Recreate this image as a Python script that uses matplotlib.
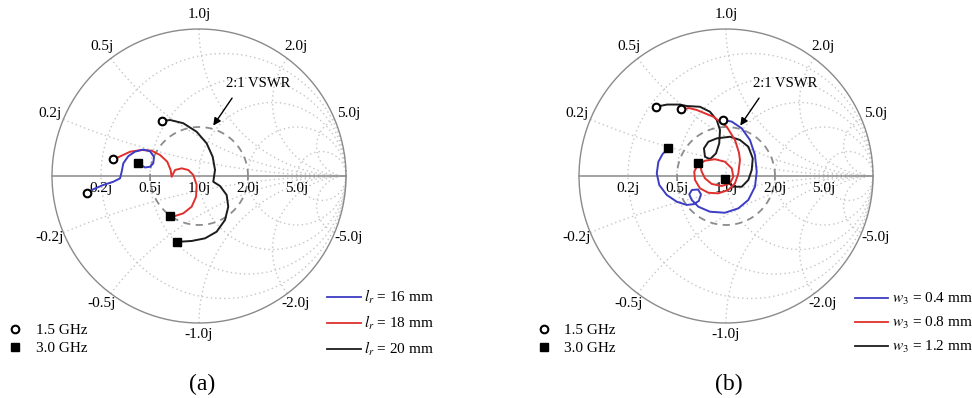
import numpy as np
import matplotlib
matplotlib.use("Agg")
import matplotlib.pyplot as plt
from matplotlib.lines import Line2D

plt.rcParams['font.family'] = ['Liberation Serif', 'DejaVu Serif']
plt.rcParams['mathtext.fontset'] = 'stix'

# ---------------- Smith chart grid values ----------------
r_grid = [0.2, 0.5, 1.0, 2.0, 5.0]
x_grid = [0.2, 0.5, 1.0, 2.0, 5.0]
resistance_labels = ['0.2j', '0.5j', '1.0j', '2.0j', '5.0j']
reactance_labels = ['0.2j', '0.5j', '1.0j', '2.0j', '5.0j']
neg_reactance_labels = ['-0.2j', '-0.5j', '-1.0j', '-2.0j', '-5.0j']
vswr = 2.0

# ---------------- (a) data: reflection coefficient (Re, Im) ----------------
a_labels = [r'$l_r$ = 16 mm', r'$l_r$ = 18 mm', r'$l_r$ = 20 mm']
a16_re = [-0.764, -0.719, -0.651, -0.583, -0.537, -0.526, -0.515, -0.481, -0.435, -0.379,
          -0.333, -0.306, -0.311, -0.333, -0.367, -0.413]
a16_im = [-0.114, -0.090, -0.061, -0.039, -0.016, 0.029, 0.086, 0.135, 0.166, 0.180,
          0.168, 0.130, 0.086, 0.063, 0.058, 0.086]
a18_re = [-0.583, -0.542, -0.469, -0.390, -0.322, -0.265, -0.216, -0.193, -0.186, -0.163,
          -0.118, -0.073, -0.039, -0.016, -0.020, -0.050, -0.107, -0.163, -0.197]
a18_im = [0.114, 0.131, 0.165, 0.177, 0.172, 0.143, 0.097, 0.041, -0.005, 0.041,
          0.052, 0.041, 0.007, -0.061, -0.141, -0.209, -0.254, -0.272, -0.272]
a20_re = [-0.254, -0.197, -0.107, -0.016, 0.052, 0.093, 0.109, 0.097, 0.143, 0.188,
          0.199, 0.177, 0.120, 0.041, -0.050, -0.129, -0.148]
a20_im = [0.374, 0.381, 0.359, 0.301, 0.222, 0.131, 0.041, -0.039, -0.068, -0.129,
          -0.209, -0.299, -0.379, -0.424, -0.442, -0.447, -0.447]

# ---------------- (b) data ----------------
b_labels = [r'$w_3$ = 0.4 mm', r'$w_3$ = 0.8 mm', r'$w_3$ = 1.2 mm']
b04_re = [-0.018, 0.039, 0.107, 0.163, 0.197, 0.209, 0.197, 0.152, 0.084, -0.007,
          -0.109, -0.188, -0.233, -0.250, -0.232, -0.190, -0.170, -0.185, -0.222, -0.267,
          -0.335, -0.403, -0.454, -0.471, -0.460, -0.431, -0.392]
b04_im = [0.381, 0.370, 0.324, 0.245, 0.143, 0.029, -0.073, -0.163, -0.220, -0.250,
          -0.243, -0.209, -0.163, -0.125, -0.095, -0.092, -0.125, -0.170, -0.192, -0.197,
          -0.175, -0.129, -0.061, 0.018, 0.097, 0.150, 0.188]
b08_re = [-0.306, -0.250, -0.199, -0.086, 0.005, 0.061, 0.088, 0.095, 0.084, 0.061,
          0.016, -0.052, -0.120, -0.177, -0.211, -0.216, -0.193, -0.143, -0.075, -0.007,
          0.039, 0.050, 0.027, -0.029, -0.097, -0.143, -0.165, -0.177, -0.188]
b08_im = [0.454, 0.462, 0.449, 0.403, 0.335, 0.245, 0.160, 0.109, 0.018, -0.050,
          -0.095, -0.118, -0.114, -0.084, -0.027, 0.029, 0.075, 0.104, 0.114, 0.097,
          0.052, -0.005, -0.050, -0.068, -0.054, -0.016, 0.029, 0.075, 0.086]
b12_re = [-0.476, -0.401, -0.313, -0.267, -0.177, -0.109, -0.063, -0.041, -0.046, -0.068,
          -0.109, -0.143, -0.150, -0.120, -0.063, 0.027, 0.095, 0.152, 0.182, 0.175,
          0.152, 0.107, 0.050, 0.005, -0.007]
b12_im = [0.471, 0.486, 0.486, 0.476, 0.471, 0.437, 0.381, 0.313, 0.222, 0.154,
          0.114, 0.131, 0.188, 0.233, 0.256, 0.267, 0.245, 0.199, 0.120, 0.041,
          -0.027, -0.073, -0.073, -0.039, -0.022]

freq_labels = ['1.5 GHz', '3.0 GHz']
vswr_text = '2:1 VSWR'

colors = ['#3c3cc4', '#e0302e', '#1c1c1c']
GRID_C = '#c6c6c6'
FS = 11

fig = plt.figure(figsize=(9.72, 3.98), dpi=100)
# axes: each half; center of chart at pixel (199,176) / (726,176), radius 147 px
PX = 147.0
axA = fig.add_axes([0, 0, 0.5, 1])
axB = fig.add_axes([0.5, 0, 0.5, 1])
for ax, cx in ((axA, 199.0), (axB, 726.0 - 486.0)):
    ax.set_xlim(-cx / PX, (486.0 - cx) / PX)
    ax.set_ylim((176.0 - 398.0) / PX, 176.0 / PX)
    ax.set_aspect('auto')
    ax.axis('off')


def gamma(z):
    return (z - 1) / (z + 1)


GRID_LS = (0, (1, 2.2))


def draw_smith(ax):
    t = np.linspace(0, 2 * np.pi, 400)
    # constant resistance circles
    for r in r_grid:
        c = r / (1 + r)
        rad = 1 / (1 + r)
        ax.plot(c + rad * np.cos(t), rad * np.sin(t), ls=GRID_LS, color=GRID_C, lw=1.0, zorder=1)
    # constant reactance arcs
    s = np.concatenate([np.linspace(0, 1, 200), np.logspace(0, 4, 400)])
    for x in x_grid:
        for sgn in (1, -1):
            g = gamma(s + 1j * sgn * x)
            ax.plot(g.real, g.imag, ls=GRID_LS, color=GRID_C, lw=1.0, zorder=1)
    # outer circle and real axis
    ax.plot(np.cos(t), np.sin(t), color='#8a8a8a', lw=1.0, zorder=2)
    ax.plot([-1, 1], [0, 0], color='#929292', lw=1.2, zorder=2)
    # VSWR circle
    rho = (vswr - 1) / (vswr + 1)
    ax.plot(rho * np.cos(t), rho * np.sin(t), ls=(0, (4, 3)), color='#8c8c8c', lw=1.3, zorder=2)
    # resistance labels on real axis
    for r, lab in zip(r_grid, resistance_labels):
        ax.text(gamma(r), -0.085, lab, ha='center', va='center', fontsize=FS, zorder=3)
    # reactance labels around circle
    for x, lab, nlab in zip(x_grid, reactance_labels, neg_reactance_labels):
        g = gamma(1j * x)
        ang = np.angle(g)
        ax.text(1.1 * np.cos(ang), 1.1 * np.sin(ang), lab, ha='center', va='center', fontsize=FS)
        ax.text(1.1 * np.cos(-ang), 1.08 * np.sin(-ang), nlab, ha='center', va='center', fontsize=FS)
    # VSWR annotation
    ax.annotate('', xy=(0.097, 0.343), xytext=(0.225, 0.53),
                arrowprops=dict(arrowstyle='-|>', color='black', lw=1.0, mutation_scale=11,
                                shrinkA=0, shrinkB=0), zorder=4)
    ax.text(0.40, 0.63, vswr_text, ha='center', va='center', fontsize=10.5)


def draw_curves(ax, series, labels, leg_x, freq_x):
    handles = []
    zorders = [5.5, 5.2, 5.0]
    for (re, im), col, lab, zo in zip(series, colors, labels, zorders):
        ax.plot(re, im, color=col, lw=1.4, zorder=zo)
        ax.plot(re[0], im[0], 'o', ms=5.5, mfc='white', mec='black', mew=1.5, zorder=6)
        ax.plot(re[-1], im[-1], 's', ms=6, mfc='black', mec='black', zorder=6)
        handles.append(Line2D([], [], color=col, lw=1.3, label=lab))
    leg1 = ax.legend(handles=handles, loc='center left', bbox_to_anchor=(leg_x, 0.188),
                     frameon=False, fontsize=FS, handlelength=2.2, handletextpad=0.2,
                     labelspacing=0.5, borderpad=0, borderaxespad=0)
    ax.add_artist(leg1)
    fh = [Line2D([], [], ls='none', marker='o', ms=5.5, mfc='white', mec='black', mew=1.5,
                 label=freq_labels[0]),
          Line2D([], [], ls='none', marker='s', ms=6, mfc='black', mec='black',
                 label=freq_labels[1])]
    ax.legend(handles=fh, loc='center left', bbox_to_anchor=(freq_x, 0.148), frameon=False,
              fontsize=FS, handlelength=1.0, handletextpad=0.85, labelspacing=0.28,
              borderpad=0, borderaxespad=0)


draw_smith(axA)
draw_smith(axB)
draw_curves(axA, [(a16_re, a16_im), (a18_re, a18_im), (a20_re, a20_im)], a_labels, 0.673, 0.016)
draw_curves(axB, [(b04_re, b04_im), (b08_re, b08_im), (b12_re, b12_im)], b_labels, 0.759, 0.103)

fig.text(202 / 972, 1 - 384 / 398, '(a)', ha='center', va='center', fontsize=17)
fig.text(729 / 972, 1 - 384 / 398, '(b)', ha='center', va='center', fontsize=17)

fig.savefig('out.png', dpi=100)
